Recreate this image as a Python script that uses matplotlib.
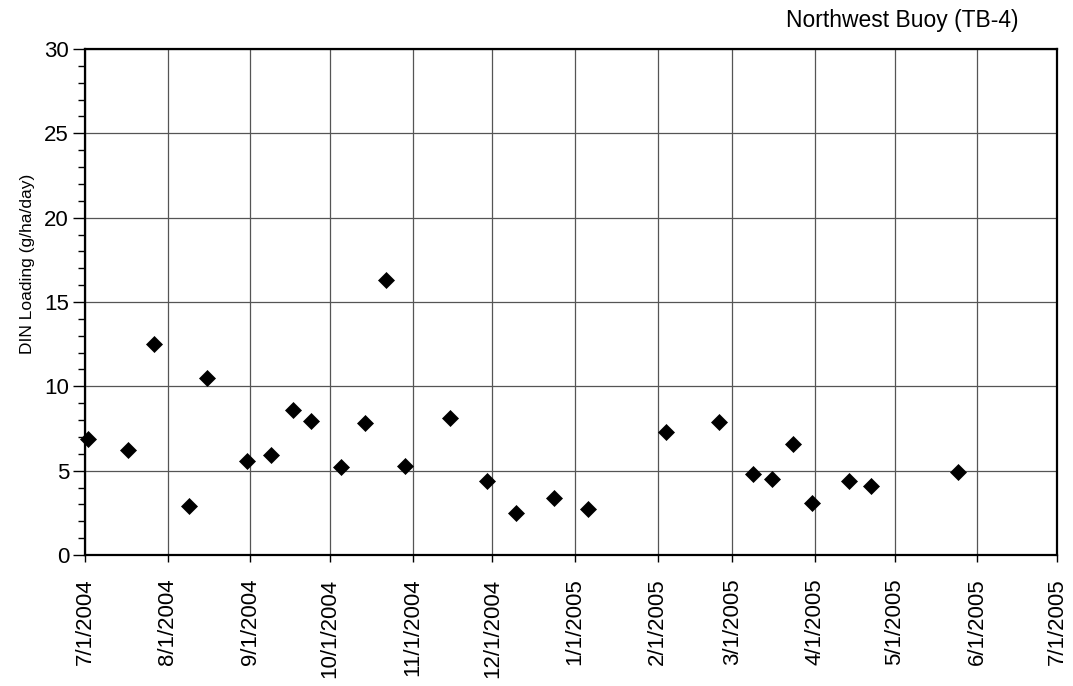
import pandas as pd
import matplotlib
matplotlib.use('Agg')
import matplotlib.pyplot as plt
import matplotlib.dates as mdates
from matplotlib.ticker import MultipleLocator, FuncFormatter

plt.rcParams['font.family'] = ['Liberation Sans', 'DejaVu Sans']

# DIN loading samples, Northwest Buoy (TB-4)
sample_dates = ['2004-07-02', '2004-07-17', '2004-07-27', '2004-08-09', '2004-08-16',
                '2004-08-31', '2004-09-09', '2004-09-17', '2004-09-24', '2004-10-05',
                '2004-10-14', '2004-10-22', '2004-10-29', '2004-11-15', '2004-11-29',
                '2004-12-10', '2004-12-24', '2005-01-06', '2005-02-04', '2005-02-24',
                '2005-03-09', '2005-03-16', '2005-03-24', '2005-03-31', '2005-04-14',
                '2005-04-22', '2005-05-25']
din_loading = [6.9, 6.2, 12.5, 2.9, 10.5,
               5.6, 5.9, 8.6, 7.95, 5.2,
               7.8, 16.3, 5.3, 8.1, 4.4,
               2.5, 3.4, 2.7, 7.3, 7.9,
               4.8, 4.5, 6.6, 3.1, 4.4,
               4.1, 4.9]

x_start = pd.Timestamp('2004-07-01')
x_end = pd.Timestamp('2005-07-01')

df = pd.DataFrame({'date': pd.to_datetime(sample_dates), 'din': din_loading})

fig = plt.figure(figsize=(10.73, 6.86), dpi=100)
ax = fig.add_axes([85 / 1073, 131 / 686, 972 / 1073, 506 / 686])

ax.plot(df['date'], df['din'], linestyle='none', marker='D', markersize=8.2,
        color='black', markeredgewidth=0.5, zorder=3, clip_on=False)

ax.set_xlim(x_start, x_end)
ax.set_ylim(0, 30)

ax.xaxis.set_major_locator(mdates.MonthLocator())
ax.xaxis.set_major_formatter(FuncFormatter(
    lambda v, pos: (lambda d: f'{d.month}/{d.day}/{d.year}')(mdates.num2date(v))))
ax.yaxis.set_major_locator(MultipleLocator(5))
ax.yaxis.set_minor_locator(MultipleLocator(1))

ax.grid(True, which='major', color='#555555', linewidth=0.9)
ax.set_axisbelow(True)

for s in ax.spines.values():
    s.set_linewidth(1.6)
    s.set_color('black')

ax.tick_params(axis='y', which='major', direction='out', length=8.5, width=1,
               labelsize=16, pad=3)
ax.tick_params(axis='y', which='minor', direction='out', length=5, width=1)
ax.tick_params(axis='x', which='major', direction='out', length=5, width=1,
               labelsize=16, pad=12, labelrotation=90)

ax.set_ylabel('DIN Loading (g/ha/day)', fontsize=12.5)
ax.yaxis.set_label_coords(-0.051, 0.575)

fig.text(1018 / 1073, 1 - 20 / 686, 'Northwest Buoy (TB-4)', ha='right', va='center',
         fontsize=16.5)

fig.savefig('out.png', dpi=100)
